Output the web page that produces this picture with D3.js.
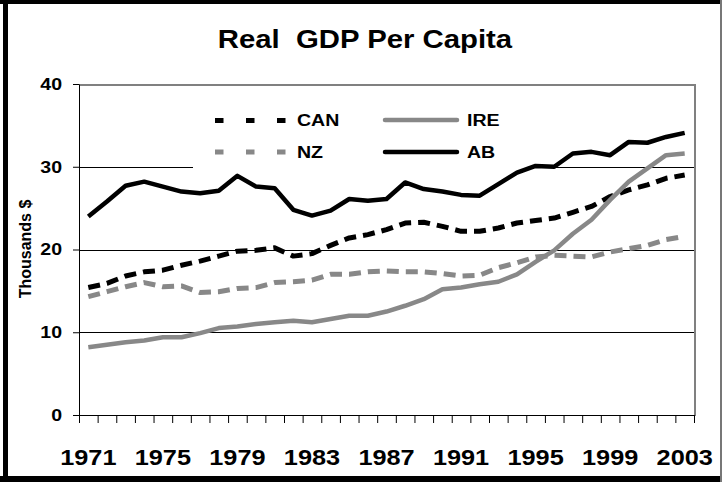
<!DOCTYPE html>
<html>
<head>
<meta charset="utf-8">
<script src="https://cdn.jsdelivr.net/npm/d3@7/dist/d3.min.js"></script>
<style>
  body { margin: 0; background: #fff; }
  svg text { font-family: Arial, "Liberation Sans", sans-serif; font-weight: bold; fill: #000; }
</style>
</head>
<body>
<svg id="chart" width="722" height="482"></svg>
<script>
// data (thousands $)
const years = [1971, 1972, 1973, 1974, 1975, 1976, 1977, 1978, 1979, 1980, 1981,
  1982, 1983, 1984, 1985, 1986, 1987, 1988, 1989, 1990, 1991, 1992,
  1993, 1994, 1995, 1996, 1997, 1998, 1999, 2000, 2001, 2002, 2003];
const can = [15.4, 15.9, 16.8, 17.3, 17.5, 18.1, 18.6, 19.2, 19.8, 19.9, 20.2,
  19.2, 19.5, 20.5, 21.4, 21.8, 22.4, 23.2, 23.3, 22.8, 22.2, 22.2,
  22.6, 23.2, 23.5, 23.8, 24.5, 25.2, 26.4, 27.2, 27.8, 28.6, 29.0];
const nz = [14.3, 14.9, 15.5, 16.0, 15.5, 15.6, 14.8, 14.9, 15.3, 15.4, 16.0,
  16.1, 16.3, 17.0, 17.0, 17.3, 17.4, 17.3, 17.3, 17.1, 16.8, 16.9,
  17.8, 18.4, 19.1, 19.3, 19.2, 19.1, 19.7, 20.1, 20.5, 21.2, 21.6];
const ire = [8.2, 8.5, 8.8, 9.0, 9.4, 9.4, 9.9, 10.5, 10.7, 11.0, 11.2,
  11.4, 11.2, 11.6, 12.0, 12.0, 12.5, 13.2, 14.0, 15.2, 15.4, 15.8,
  16.1, 17.0, 18.5, 19.9, 21.9, 23.6, 26.0, 28.2, 29.8, 31.4, 31.6];
const ab = [24.0, 25.8, 27.7, 28.2, 27.6, 27.0, 26.8, 27.1, 28.9, 27.6, 27.4,
  24.8, 24.1, 24.7, 26.1, 25.9, 26.1, 28.1, 27.3, 27.0, 26.6, 26.5,
  27.9, 29.3, 30.1, 30.0, 31.6, 31.8, 31.4, 33.0, 32.9, 33.6, 34.1];
const yTicks = [0, 10, 20, 30, 40];
const xLabels = [1971, 1975, 1979, 1983, 1987, 1991, 1995, 1999, 2003];

const svg = d3.select("#chart");
const plotL = 79, plotR = 694, plotT = 84, plotB = 415;

const x = d3.scaleBand().domain(years).range([plotL, plotR]).padding(0);
const xEdge = d3.scaleLinear().domain([0, years.length]).range([plotL, plotR]);
const y = d3.scaleLinear().domain([0, 40]).range([plotB, plotT]);
const cx = function(i) { return x(years[i]) + x.bandwidth() / 2; };

// outer frame
svg.append("rect").attr("x", 0).attr("y", 0).attr("width", 722).attr("height", 482).style("fill", "#fff");
svg.append("rect").attr("x", 0).attr("y", 0).attr("width", 722).attr("height", 4).style("fill", "#000");
svg.append("rect").attr("x", 3).attr("y", 0).attr("width", 5).attr("height", 482).style("fill", "#000");
svg.append("rect").attr("x", 0).attr("y", 476).attr("width", 722).attr("height", 6).style("fill", "#000");
svg.append("rect").attr("x", 720).attr("y", 0).attr("width", 2).attr("height", 482).style("fill", "#777");

// gridlines
svg.append("g").selectAll("line").data([10, 20, 30]).enter().append("line")
  .attr("x1", plotL).attr("x2", plotR)
  .attr("y1", d => Math.round(y(d)) + 0.5).attr("y2", d => Math.round(y(d)) + 0.5)
  .style("stroke", "#000").style("stroke-width", 1);

// plot area border (top and right, gray)
svg.append("path")
  .attr("d", "M" + plotL + "," + (plotT + 1) + "H" + (plotR + 1) + "V" + (plotB + 1))
  .style("fill", "none").style("stroke", "#808080").style("stroke-width", 2);

// legend box
svg.append("rect").attr("x", 193).attr("y", 98).attr("width", 339).attr("height", 72).style("fill", "#fff");

// axes
svg.append("g").attr("transform", "translate(" + plotL + ",0)")
  .call(d3.axisLeft(y).tickValues(yTicks).tickSize(6).tickSizeOuter(0).tickPadding(11))
  .call(g => g.selectAll("text").style("font-size", "17px").attr("class", "stretch"));

svg.append("g").attr("transform", "translate(0," + plotB + ")")
  .call(d3.axisBottom(xEdge).tickValues(d3.range(0, years.length + 1)).tickSize(8).tickSizeOuter(0).tickFormat(""));

svg.append("g").attr("transform", "translate(0," + plotB + ")")
  .call(d3.axisBottom(x).tickValues(xLabels).tickSize(0).tickPadding(34))
  .call(g => g.select(".domain").remove())
  .call(g => g.selectAll("text").style("font-size", "22px").attr("class", "stretch"));

svg.selectAll(".domain, .tick line").style("stroke", "#000");

// series
const series = [
  { name: "CAN", values: can, color: "#000", dash: "12,7", width: 5 },
  { name: "NZ", values: nz, color: "#888", dash: "12,7", width: 5 },
  { name: "IRE", values: ire, color: "#888", dash: null, width: 4.5 },
  { name: "AB", values: ab, color: "#000", dash: null, width: 4.5 }
];
const line = d3.line().x((d, i) => cx(i)).y(d => y(d));

series.forEach(function(s) {
  svg.append("path").datum(s.values)
    .attr("d", line)
    .style("fill", "none").style("stroke", s.color).style("stroke-width", s.width)
    .style("stroke-linejoin", "round")
    .style("stroke-dasharray", s.dash);
});

// legend
const legendItems = [
  { s: series[0], lx: 215, ty: 126.5, ly: 120.5 },
  { s: series[2], lx: 385, ty: 126.5, ly: 120 },
  { s: series[1], lx: 215, ty: 158, ly: 152 },
  { s: series[3], lx: 385, ty: 158, ly: 152 }
];
legendItems.forEach(function(it) {
  svg.append("line").attr("x1", it.lx).attr("x2", it.lx + 72).attr("y1", it.ly).attr("y2", it.ly)
    .style("stroke", it.s.color).style("stroke-width", it.s.dash ? 5 : 4.5)
    .style("stroke-linecap", it.s.dash ? "butt" : "round")
    .style("stroke-dasharray", it.s.dash ? "8.5,22.5" : null);
  svg.append("text").attr("class", "stretch").attr("x", it.lx + 82).attr("y", it.ty)
    .style("font-size", "17px").text(it.s.name);
});

// title and axis title
svg.append("text").attr("class", "stretch").attr("x", 365).attr("y", 48)
  .attr("text-anchor", "middle").style("font-size", "25.5px").text("Real  GDP Per Capita")
  .style("white-space", "pre");
svg.append("text").attr("transform", "translate(31,249) rotate(-90)")
  .attr("text-anchor", "middle").style("font-size", "16px").text("Thousands $");

// the source text is drawn somewhat wider than Arial: stretch the glyphs sideways
const sx = 1.15;
svg.selectAll("text.stretch").each(function() {
  const el = d3.select(this);
  const x0 = +el.attr("x") || 0;
  el.attr("x", x0 / sx).attr("transform", "scale(" + sx + ",1)");
});
</script>
</body>
</html>
